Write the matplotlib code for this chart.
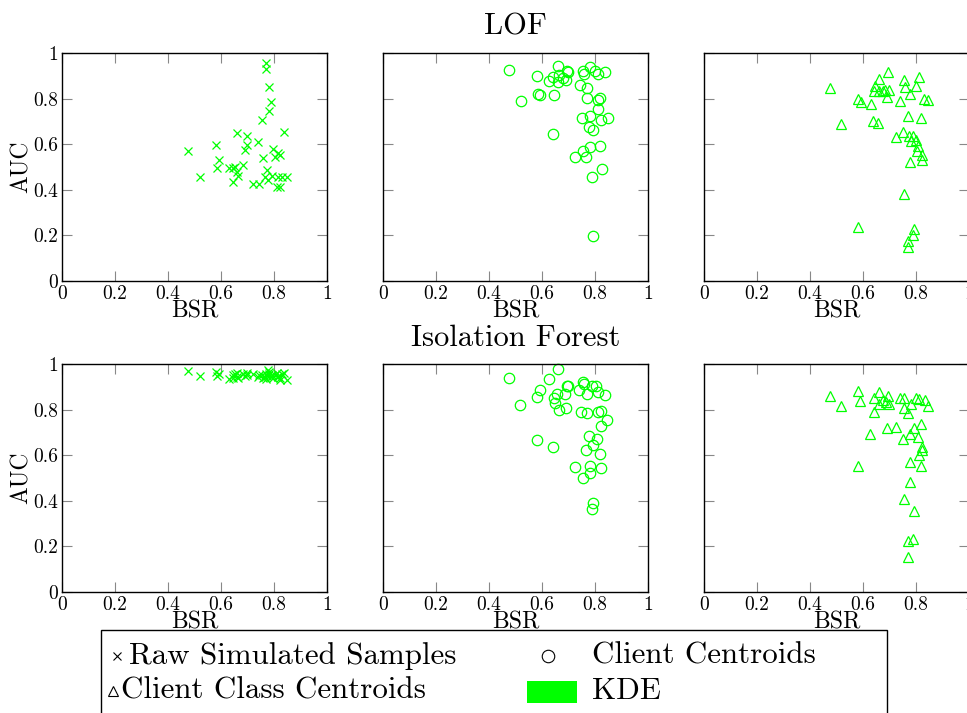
import matplotlib
matplotlib.use("Agg")
import matplotlib.pyplot as plt
from matplotlib.lines import Line2D
from matplotlib.patches import Rectangle

plt.rcParams['font.family'] = ['cmr10', 'DejaVu Serif']
plt.rcParams['mathtext.fontset'] = 'cm'
plt.rcParams['axes.formatter.use_mathtext'] = True

GREEN = '#00ff00'

# ---------------- data ----------------
raw_bsr = [0.475, 0.519, 0.581, 0.586, 0.593, 0.631, 0.644, 0.647, 0.654, 0.659,
           0.662, 0.666, 0.683, 0.691, 0.698, 0.699, 0.720, 0.745, 0.741, 0.757,
           0.754, 0.783, 0.781, 0.790, 0.770, 0.770, 0.773, 0.767, 0.779, 0.792,
           0.795, 0.805, 0.814, 0.821, 0.811, 0.824, 0.830, 0.838, 0.849, 0.815]
raw_lof_auc = [0.572, 0.454, 0.597, 0.496, 0.531, 0.495, 0.436, 0.495, 0.502, 0.480,
               0.650, 0.461, 0.507, 0.575, 0.597, 0.634, 0.426, 0.426, 0.609, 0.539,
               0.704, 0.744, 0.851, 0.785, 0.956, 0.930, 0.487, 0.455, 0.444, 0.461,
               0.578, 0.546, 0.561, 0.553, 0.414, 0.411, 0.454, 0.653, 0.454, 0.458]
raw_if_auc = [0.970, 0.946, 0.965, 0.948, 0.955, 0.935, 0.940, 0.952, 0.958, 0.945,
              0.960, 0.938, 0.955, 0.948, 0.962, 0.950, 0.958, 0.950, 0.945, 0.940,
              0.952, 0.955, 0.965, 0.945, 0.935, 0.958, 0.948, 0.942, 0.972, 0.950,
              0.938, 0.953, 0.945, 0.930, 0.960, 0.940, 0.955, 0.962, 0.930, 0.948]

lof_cent_bsr = [0.475, 0.520, 0.581, 0.585, 0.594, 0.625, 0.641, 0.645, 0.641, 0.660,
                0.664, 0.660, 0.679, 0.689, 0.696, 0.698, 0.742, 0.755, 0.758, 0.771,
                0.770, 0.781, 0.801, 0.811, 0.836, 0.820, 0.813, 0.811, 0.752, 0.783,
                0.823, 0.849, 0.777, 0.792, 0.820, 0.780, 0.753, 0.723, 0.767, 0.825,
                0.787, 0.792]
lof_cent_auc = [0.927, 0.789, 0.900, 0.821, 0.817, 0.877, 0.895, 0.817, 0.646, 0.941,
                0.905, 0.871, 0.890, 0.880, 0.919, 0.915, 0.858, 0.919, 0.908, 0.845,
                0.802, 0.938, 0.919, 0.906, 0.917, 0.804, 0.792, 0.754, 0.716, 0.722,
                0.707, 0.713, 0.675, 0.663, 0.594, 0.587, 0.568, 0.546, 0.542, 0.490,
                0.455, 0.198]

if_cent_bsr = [0.475, 0.518, 0.581, 0.591, 0.582, 0.628, 0.641, 0.644, 0.648, 0.658,
               0.662, 0.663, 0.686, 0.694, 0.699, 0.692, 0.740, 0.755, 0.758, 0.771,
               0.748, 0.771, 0.790, 0.805, 0.813, 0.836, 0.813, 0.821, 0.847, 0.824,
               0.777, 0.809, 0.792, 0.767, 0.820, 0.723, 0.780, 0.824, 0.780, 0.755,
               0.792, 0.787]
if_cent_auc = [0.940, 0.821, 0.854, 0.887, 0.668, 0.933, 0.637, 0.849, 0.830, 0.867,
               0.978, 0.798, 0.867, 0.905, 0.904, 0.805, 0.886, 0.921, 0.911, 0.868,
               0.791, 0.783, 0.903, 0.905, 0.876, 0.864, 0.791, 0.793, 0.754, 0.729,
               0.684, 0.673, 0.644, 0.625, 0.605, 0.549, 0.553, 0.543, 0.523, 0.498,
               0.392, 0.362]

lof_class_bsr = [0.474, 0.517, 0.581, 0.591, 0.629, 0.637, 0.656, 0.640, 0.646, 0.661,
                 0.659, 0.676, 0.684, 0.699, 0.690, 0.695, 0.740, 0.753, 0.757, 0.777,
                 0.800, 0.810, 0.831, 0.844, 0.770, 0.818, 0.750, 0.724, 0.774, 0.780,
                 0.790, 0.799, 0.809, 0.805, 0.822, 0.822, 0.778, 0.754, 0.583, 0.793,
                 0.788, 0.768, 0.770]
lof_class_auc = [0.846, 0.687, 0.797, 0.783, 0.776, 0.703, 0.695, 0.835, 0.854, 0.887,
                 0.832, 0.832, 0.839, 0.836, 0.806, 0.916, 0.788, 0.880, 0.849, 0.821,
                 0.855, 0.893, 0.797, 0.794, 0.723, 0.713, 0.654, 0.631, 0.634, 0.616,
                 0.634, 0.619, 0.593, 0.568, 0.553, 0.529, 0.523, 0.381, 0.239, 0.230,
                 0.201, 0.176, 0.149]

if_class_bsr = [0.474, 0.517, 0.580, 0.590, 0.583, 0.627, 0.640, 0.642, 0.661, 0.661,
                0.674, 0.686, 0.696, 0.699, 0.689, 0.724, 0.739, 0.755, 0.755, 0.770,
                0.780, 0.799, 0.812, 0.834, 0.844, 0.750, 0.778, 0.793, 0.818, 0.809,
                0.824, 0.824, 0.812, 0.778, 0.819, 0.777, 0.754, 0.792, 0.787, 0.768,
                0.768]
if_class_auc = [0.859, 0.816, 0.883, 0.839, 0.553, 0.691, 0.789, 0.849, 0.876, 0.823,
                0.842, 0.835, 0.859, 0.824, 0.719, 0.725, 0.849, 0.852, 0.805, 0.786,
                0.823, 0.852, 0.845, 0.842, 0.816, 0.669, 0.691, 0.720, 0.736, 0.678,
                0.637, 0.625, 0.600, 0.571, 0.553, 0.483, 0.406, 0.356, 0.234, 0.223,
                0.154]

ticks = [0, 0.2, 0.4, 0.6, 0.8, 1]
tick_labels = ['0', '0.2', '0.4', '0.6', '0.8', '1']
row_titles = ['LOF', 'Isolation Forest']
legend_labels = ['Raw Simulated Samples', 'Client Centroids',
                 'Client Class Centroids', 'KDE']

panels = [
    [(raw_bsr, raw_lof_auc, 'x'), (lof_cent_bsr, lof_cent_auc, 'o'),
     (lof_class_bsr, lof_class_auc, '^')],
    [(raw_bsr, raw_if_auc, 'x'), (if_cent_bsr, if_cent_auc, 'o'),
     (if_class_bsr, if_class_auc, '^')],
]

# ---------------- figure ----------------
W, H = 967, 713
fig = plt.figure(figsize=(W / 100, H / 100), dpi=100)

def fx(px):
    return px / W

def fy(py):
    return 1 - py / H

col_left = [62, 383, 704]
ax_w = 265
row_top = [53, 364]
ax_h = 228

msize = {'x': 5.5, 'o': 7.5, '^': 7.0}

for r in range(2):
    for c in range(3):
        ax = fig.add_axes([fx(col_left[c]), fy(row_top[r] + ax_h), ax_w / W, ax_h / H])
        xs, ys, m = panels[r][c]
        ax.plot(xs, ys, linestyle='none', marker=m, markersize=msize[m],
                markerfacecolor='none' if m != 'x' else GREEN,
                markeredgecolor=GREEN, markeredgewidth=0.9, clip_on=False)
        ax.set_xlim(0, 1)
        ax.set_ylim(0, 1)
        ax.set_xticks(ticks)
        ax.set_xticklabels(tick_labels)
        ax.set_yticks(ticks)
        if c == 0:
            ax.set_yticklabels(tick_labels)
            ax.set_ylabel('AUC', fontsize=17, labelpad=0)
        else:
            ax.set_yticklabels([])
        ax.set_xlabel('BSR', fontsize=17, labelpad=-2)
        ax.tick_params(direction='in', length=7, width=0.8, color='#888888',
                       top=True, right=True, labelsize=14, pad=3)
        for s in ax.spines.values():
            s.set_linewidth(1.0)
            s.set_color('black')
        if c == 1:
            ax.set_title(row_titles[r], fontsize=22, pad=13)

# ---------------- legend (drawn manually) ----------------
box = Rectangle((fx(101), fy(725)), fx(887) - fx(101), fy(630) - fy(725),
                transform=fig.transFigure, facecolor='white', edgecolor='black',
                linewidth=1.0, clip_on=False)
fig.add_artist(box)

fig.add_artist(Line2D([fx(117)], [fy(656)], marker='x', color='black',
                      markersize=6, markeredgewidth=0.8, transform=fig.transFigure))
fig.text(fx(129), fy(656), legend_labels[0], fontsize=22.3, va='center', ha='left')

fig.add_artist(Line2D([fx(548)], [fy(656)], marker='o', color='black',
                      markerfacecolor='none', markersize=9, markeredgewidth=0.8,
                      transform=fig.transFigure))
fig.text(fx(592), fy(656), legend_labels[1], fontsize=22.3, va='center', ha='left')

fig.add_artist(Line2D([fx(113)], [fy(691)], marker='^', color='black',
                      markerfacecolor='none', markersize=7, markeredgewidth=0.8,
                      transform=fig.transFigure))
fig.text(fx(121), fy(691), legend_labels[2], fontsize=22.3, va='center', ha='left')

fig.add_artist(Rectangle((fx(527), fy(703)), fx(577) - fx(527), fy(681) - fy(703),
                         transform=fig.transFigure, facecolor=GREEN,
                         edgecolor='none'))
fig.text(fx(592), fy(691), legend_labels[3], fontsize=22.3, va='center', ha='left')

fig.savefig('out.png', dpi=100)
